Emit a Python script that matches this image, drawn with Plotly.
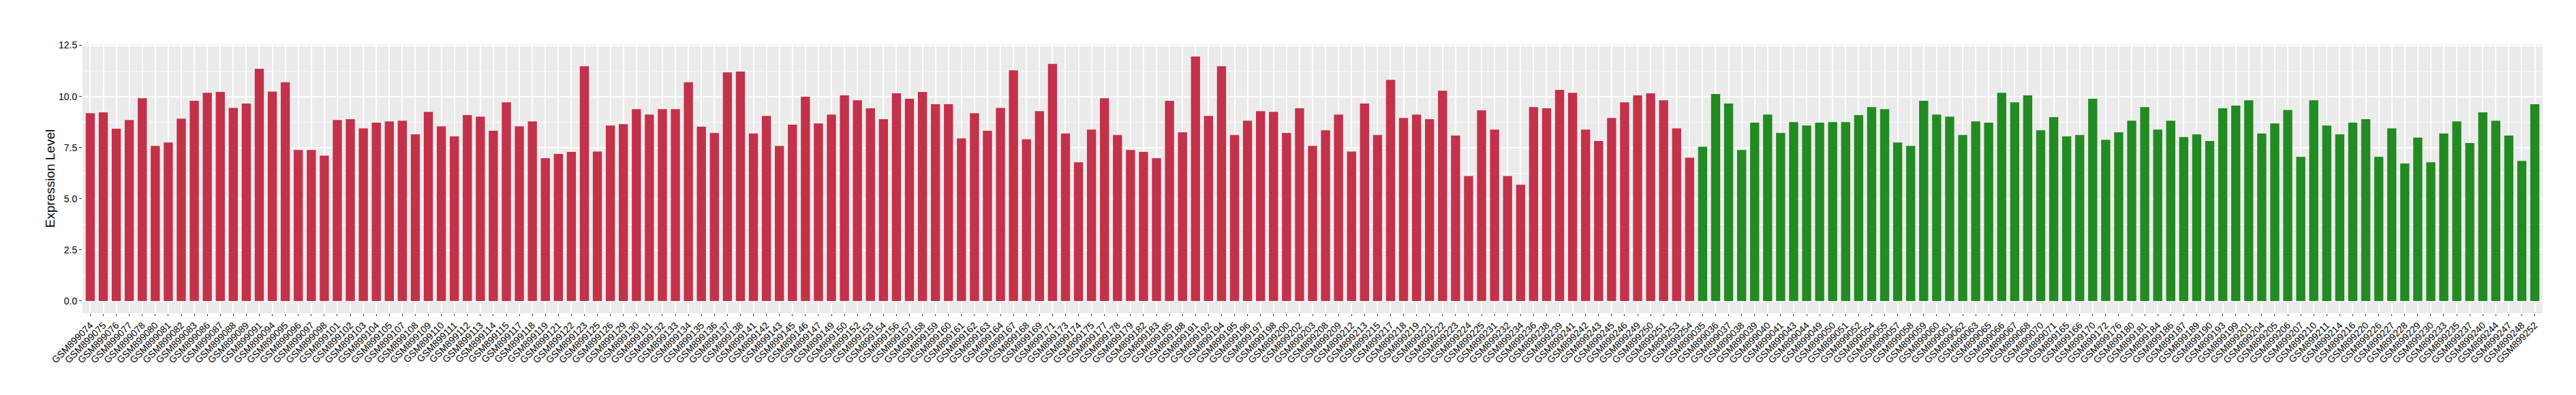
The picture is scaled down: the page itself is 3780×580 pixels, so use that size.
import plotly.graph_objects as go

# ---- data ----
red_samples = [
    "GSM899074", "GSM899075", "GSM899076", "GSM899077", "GSM899078", "GSM899080", "GSM899081", "GSM899082",
    "GSM899083", "GSM899086", "GSM899087", "GSM899088", "GSM899089", "GSM899091", "GSM899094", "GSM899095",
    "GSM899096", "GSM899097", "GSM899098", "GSM899101", "GSM899102", "GSM899103", "GSM899104", "GSM899105",
    "GSM899107", "GSM899108", "GSM899109", "GSM899110", "GSM899111", "GSM899112", "GSM899113", "GSM899114",
    "GSM899115", "GSM899117", "GSM899118", "GSM899119", "GSM899121", "GSM899122", "GSM899123", "GSM899125",
    "GSM899126", "GSM899129", "GSM899130", "GSM899131", "GSM899132", "GSM899133", "GSM899134", "GSM899135",
    "GSM899136", "GSM899137", "GSM899138", "GSM899141", "GSM899142", "GSM899143", "GSM899145", "GSM899146",
    "GSM899147", "GSM899149", "GSM899150", "GSM899152", "GSM899153", "GSM899154", "GSM899156", "GSM899157",
    "GSM899158", "GSM899159", "GSM899160", "GSM899161", "GSM899162", "GSM899163", "GSM899164", "GSM899167",
    "GSM899168", "GSM899169", "GSM899171", "GSM899173", "GSM899174", "GSM899175", "GSM899177", "GSM899178",
    "GSM899179", "GSM899182", "GSM899183", "GSM899185", "GSM899188", "GSM899191", "GSM899192", "GSM899194",
    "GSM899195", "GSM899196", "GSM899197", "GSM899198", "GSM899200", "GSM899202", "GSM899203", "GSM899208",
    "GSM899209", "GSM899212", "GSM899213", "GSM899215", "GSM899217", "GSM899218", "GSM899219", "GSM899221",
    "GSM899222", "GSM899223", "GSM899224", "GSM899225", "GSM899231", "GSM899232", "GSM899234", "GSM899236",
    "GSM899238", "GSM899239", "GSM899241", "GSM899242", "GSM899243", "GSM899245", "GSM899246", "GSM899249",
    "GSM899250", "GSM899251", "GSM899253", "GSM899254",
]
red_values = [
    9.18, 9.22, 8.42, 8.85, 9.91, 7.58, 7.75, 8.91,
    9.79, 10.18, 10.22, 9.44, 9.65, 11.35, 10.24, 10.69,
    7.38, 7.38, 7.11, 8.85, 8.89, 8.44, 8.72, 8.78,
    8.81, 8.15, 9.25, 8.54, 8.05, 9.09, 9.01, 8.32,
    9.71, 8.54, 8.78, 6.98, 7.19, 7.29, 11.48, 7.31,
    8.58, 8.65, 9.38, 9.11, 9.38, 9.38, 10.69, 8.52,
    8.21, 11.18, 11.22, 8.19, 9.05, 7.58, 8.62, 9.99,
    8.68, 9.11, 10.05, 9.81, 9.42, 8.89, 10.15, 9.89,
    10.22, 9.62, 9.62, 7.95, 9.18, 8.32, 9.44, 11.28,
    7.91, 9.28, 11.59, 8.19, 6.78, 8.38, 9.91, 8.11,
    7.38, 7.29, 6.98, 9.79, 8.25, 11.95, 9.05, 11.48,
    8.11, 8.81, 9.28, 9.25, 8.21, 9.42, 7.58, 8.35,
    9.11, 7.31, 9.65, 8.11, 10.81, 8.95, 9.11, 8.89,
    10.28, 8.09, 6.11, 9.32, 8.38, 6.11, 5.68, 9.48,
    9.42, 10.32, 10.18, 8.38, 7.82, 8.95, 9.71, 10.05,
    10.15, 9.81, 8.44, 7.01,
]
green_samples = [
    "GSM899035", "GSM899036", "GSM899037", "GSM899038", "GSM899039", "GSM899040", "GSM899041", "GSM899043",
    "GSM899044", "GSM899049", "GSM899050", "GSM899051", "GSM899052", "GSM899054", "GSM899055", "GSM899057",
    "GSM899058", "GSM899059", "GSM899060", "GSM899061", "GSM899062", "GSM899063", "GSM899065", "GSM899066",
    "GSM899067", "GSM899068", "GSM899070", "GSM899071", "GSM899165", "GSM899166", "GSM899170", "GSM899172",
    "GSM899176", "GSM899180", "GSM899181", "GSM899184", "GSM899186", "GSM899187", "GSM899189", "GSM899190",
    "GSM899193", "GSM899199", "GSM899201", "GSM899204", "GSM899205", "GSM899206", "GSM899207", "GSM899210",
    "GSM899211", "GSM899214", "GSM899216", "GSM899220", "GSM899226", "GSM899227", "GSM899228", "GSM899229",
    "GSM899230", "GSM899233", "GSM899235", "GSM899237", "GSM899240", "GSM899244", "GSM899247", "GSM899248",
    "GSM899252",
]
green_values = [
    7.54, 10.12, 9.65, 7.38, 8.72, 9.11, 8.21, 8.75,
    8.58, 8.72, 8.75, 8.75, 9.09, 9.48, 9.38, 7.75,
    7.58, 9.79, 9.11, 9.01, 8.11, 8.78, 8.72, 10.18,
    9.71, 10.05, 8.35, 8.99, 8.05, 8.11, 9.89, 7.88,
    8.25, 8.81, 9.48, 8.38, 8.81, 8.01, 8.15, 7.82,
    9.42, 9.55, 9.81, 8.19, 8.68, 9.34, 7.05, 9.81,
    8.58, 8.15, 8.72, 8.89, 7.05, 8.44, 6.72, 7.99,
    6.78, 8.19, 8.78, 7.72, 9.22, 8.81, 8.09, 6.85,
    9.62,
]
y_title = "Expression Level"

all_samples = red_samples + green_samples
n = len(all_samples)

FONT = "Liberation Sans, Arial, Helvetica, sans-serif"

fig = go.Figure()
fig.add_trace(go.Bar(x=red_samples, y=red_values, width=0.7,
                     marker=dict(color="#C3314A", line=dict(width=0)), showlegend=False))
fig.add_trace(go.Bar(x=green_samples, y=green_values, width=0.7,
                     marker=dict(color="#228B22", line=dict(width=0)), showlegend=False))

fig.update_layout(
    width=3780, height=580,
    margin=dict(l=113, r=57, t=57, b=128, autoexpand=False),
    paper_bgcolor="white", plot_bgcolor="#EBEBEB",
    barmode="overlay",
    font=dict(family=FONT, color="black", size=14),
    xaxis=dict(
        type="category", categoryorder="array", categoryarray=all_samples,
        tickmode="array", tickvals=all_samples, ticktext=all_samples,
        range=[-0.6, n - 1 + 0.6],
        tickangle=-45, tickfont=dict(size=14, color="black", family=FONT),
        showgrid=True, gridcolor="white", gridwidth=1.5,
        ticks="outside", ticklen=3, tickwidth=1, tickcolor="#333333",
        showline=False, zeroline=False, automargin=False,
    ),
    yaxis=dict(
        range=[-0.6, 12.55],
        tick0=0, dtick=2.5, tickformat=".1f",
        tickfont=dict(size=14, color="black", family=FONT),
        showgrid=True, gridcolor="white", gridwidth=1.5,
        minor=dict(dtick=1.25, tick0=0, showgrid=True, gridcolor="white", gridwidth=0.7, ticks=""),
        ticks="outside", ticklen=4, tickwidth=1, tickcolor="#333333",
        showline=False, zeroline=False, automargin=False,
    ),
    annotations=[dict(
        text=y_title, xref="paper", yref="paper",
        x=(65 - 113) / (3780 - 113 - 57), y=0.5, xanchor="center", yanchor="middle",
        textangle=-90, showarrow=False, font=dict(size=19, color="black", family=FONT),
    )],
)

fig.write_html("out.html")
